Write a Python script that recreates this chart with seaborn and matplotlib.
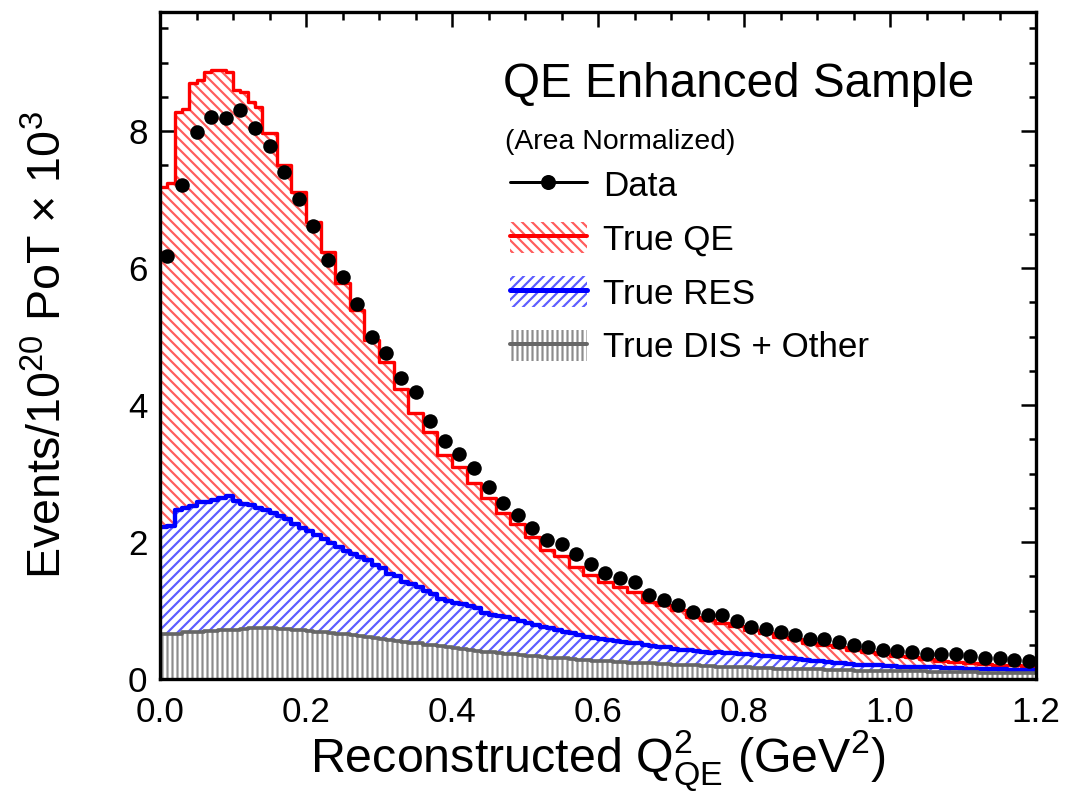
import numpy as np
import pandas as pd
import matplotlib
matplotlib.use("Agg")
import matplotlib.pyplot as plt
import seaborn as sns
from matplotlib.lines import Line2D
from matplotlib.patches import Patch
from matplotlib.ticker import MultipleLocator

# ---------------- data ----------------
q2_range = [0.0, 1.2]

# Data points, 0.02 GeV^2 bins (Events / 1e20 PoT x 1e3)
data_events = [6.17, 7.22, 7.99, 8.21, 8.19, 8.31, 8.05, 7.79, 7.40, 7.01,
               6.61, 6.12, 5.87, 5.48, 4.99, 4.76, 4.39, 4.19, 3.77, 3.47,
               3.29, 3.08, 2.80, 2.57, 2.40, 2.21, 2.03, 1.97, 1.82, 1.68,
               1.55, 1.47, 1.41, 1.23, 1.16, 1.08, 0.98, 0.93, 0.93, 0.84,
               0.76, 0.73, 0.69, 0.64, 0.58, 0.59, 0.54, 0.49, 0.47, 0.42,
               0.41, 0.40, 0.36, 0.36, 0.36, 0.33, 0.30, 0.30, 0.28, 0.26]

# Simulation, 0.01 GeV^2 bins (stacked totals as drawn)
true_qe = [7.19, 7.24, 8.28, 8.32, 8.70, 8.74, 8.87, 8.89, 8.89, 8.87,
           8.60, 8.57, 8.43, 8.35, 7.97, 7.97, 7.50, 7.50, 7.11, 7.11,
           6.68, 6.68, 6.24, 6.24, 5.78, 5.78, 5.39, 5.39, 4.95, 4.95,
           4.63, 4.63, 4.24, 4.24, 3.88, 3.88, 3.61, 3.61, 3.27, 3.27,
           3.10, 3.10, 2.86, 2.86, 2.64, 2.64, 2.42, 2.42, 2.27, 2.27,
           2.07, 2.07, 1.88, 1.88, 1.79, 1.79, 1.64, 1.64, 1.52, 1.52,
           1.42, 1.42, 1.35, 1.35, 1.27, 1.27, 1.13, 1.13, 1.08, 1.08,
           1.01, 1.01, 0.91, 0.91, 0.86, 0.86, 0.82, 0.82, 0.77, 0.77,
           0.72, 0.72, 0.67, 0.67, 0.62, 0.62, 0.58, 0.58, 0.53, 0.53,
           0.50, 0.50, 0.47, 0.47, 0.43, 0.43, 0.40, 0.40, 0.37, 0.37,
           0.34, 0.34, 0.32, 0.32, 0.29, 0.29, 0.27, 0.27, 0.25, 0.25,
           0.24, 0.24, 0.22, 0.22, 0.21, 0.21, 0.20, 0.20, 0.19, 0.19]

true_res = [2.22, 2.24, 2.47, 2.49, 2.53, 2.58, 2.59, 2.61, 2.64, 2.67,
            2.60, 2.56, 2.54, 2.49, 2.47, 2.42, 2.38, 2.34, 2.27, 2.20,
            2.16, 2.10, 2.04, 1.99, 1.93, 1.87, 1.82, 1.78, 1.74, 1.66,
            1.62, 1.54, 1.50, 1.42, 1.38, 1.35, 1.28, 1.24, 1.17, 1.14,
            1.11, 1.09, 1.06, 1.04, 0.97, 0.93, 0.92, 0.90, 0.87, 0.85,
            0.82, 0.79, 0.76, 0.74, 0.71, 0.69, 0.67, 0.64, 0.62, 0.60,
            0.59, 0.57, 0.56, 0.54, 0.53, 0.52, 0.50, 0.48, 0.47, 0.46,
            0.44, 0.43, 0.42, 0.41, 0.39, 0.38, 0.40, 0.38, 0.38, 0.36,
            0.36, 0.35, 0.34, 0.33, 0.32, 0.31, 0.30, 0.29, 0.28, 0.27,
            0.26, 0.25, 0.24, 0.23, 0.22, 0.21, 0.21, 0.20, 0.20, 0.19,
            0.19, 0.18, 0.18, 0.18, 0.17, 0.17, 0.17, 0.16, 0.16, 0.16,
            0.15, 0.15, 0.15, 0.14, 0.14, 0.14, 0.13, 0.13, 0.13, 0.13]

true_dis_other = [0.65, 0.66, 0.66, 0.68, 0.68, 0.69, 0.70, 0.70, 0.71, 0.72,
                  0.72, 0.73, 0.74, 0.75, 0.75, 0.74, 0.73, 0.73, 0.72, 0.71,
                  0.70, 0.69, 0.68, 0.67, 0.66, 0.65, 0.64, 0.63, 0.61, 0.60,
                  0.59, 0.57, 0.56, 0.54, 0.53, 0.52, 0.50, 0.49, 0.48, 0.46,
                  0.45, 0.44, 0.43, 0.41, 0.40, 0.39, 0.38, 0.37, 0.36, 0.35,
                  0.34, 0.33, 0.32, 0.31, 0.30, 0.30, 0.29, 0.28, 0.28, 0.27,
                  0.27, 0.26, 0.25, 0.25, 0.24, 0.24, 0.23, 0.23, 0.22, 0.22,
                  0.21, 0.21, 0.20, 0.20, 0.19, 0.19, 0.18, 0.18, 0.18, 0.17,
                  0.17, 0.16, 0.16, 0.16, 0.15, 0.15, 0.15, 0.14, 0.14, 0.14,
                  0.14, 0.13, 0.13, 0.13, 0.13, 0.12, 0.12, 0.12, 0.12, 0.12,
                  0.11, 0.11, 0.11, 0.11, 0.11, 0.10, 0.10, 0.10, 0.10, 0.10,
                  0.10, 0.10, 0.09, 0.09, 0.09, 0.09, 0.09, 0.09, 0.09, 0.09]

legend_labels = ["Data", "True QE", "True RES", "True DIS + Other"]
title_text = "QE Enhanced Sample"
subtitle_text = "(Area Normalized)"
x_ticks = [0.0, 0.2, 0.4, 0.6, 0.8, 1.0, 1.2]
y_ticks = [0, 2, 4, 6, 8]

# ---------------- styling ----------------
sns.set_theme(style="ticks")
plt.rcParams["font.family"] = ["Liberation Sans", "DejaVu Sans"]
plt.rcParams["mathtext.default"] = "regular"
plt.rcParams["hatch.linewidth"] = 1.3
for k in ["text.color", "axes.labelcolor", "xtick.color", "ytick.color",
          "axes.edgecolor"]:
    plt.rcParams[k] = "black"

DPI = 120
W, H = 1070, 794
fig = plt.figure(figsize=(W / DPI, H / DPI), dpi=DPI)
ax = fig.add_axes([160 / W, 115 / H, 876 / W, 667 / H])

n_mc = len(true_qe)
n_data = len(data_events)
mc_w = (q2_range[1] - q2_range[0]) / n_mc
d_w = (q2_range[1] - q2_range[0]) / n_data
mc_centers = q2_range[0] + mc_w * (np.arange(n_mc) + 0.5)
d_centers = q2_range[0] + d_w * (np.arange(n_data) + 0.5)

mc = pd.DataFrame({"q2": mc_centers, "qe": true_qe, "res": true_res,
                   "dis": true_dis_other})
dd = pd.DataFrame({"q2": d_centers, "events": data_events})

RED_H, RED_L = "#ff5c5c", "#ff0000"
BLU_H, BLU_L = "#5c5cff", "#0000ff"
GRY_H, GRY_L = "#8c8c8c", "#666666"
styles = [
    ("qe", "\\\\\\\\", RED_H, RED_L, 2.0),
    ("res", "////", BLU_H, BLU_L, 2.6),
    ("dis", "||||", GRY_H, GRY_L, 2.2),
]
for col, hatch, hcol, lcol, lw in styles:
    sns.histplot(data=mc, x="q2", weights=col, bins=n_mc, binrange=q2_range,
                 element="step", fill=True, facecolor="white", edgecolor=hcol,
                 hatch=hatch, linewidth=0, alpha=1, ax=ax)
    sns.histplot(data=mc, x="q2", weights=col, bins=n_mc, binrange=q2_range,
                 element="step", fill=False, color=lcol, linewidth=lw, ax=ax)

sns.scatterplot(data=dd, x="q2", y="events", color="black", s=76,
                edgecolor="black", linewidth=0, zorder=10, ax=ax)

ax.set_xlim(q2_range)
ax.set_ylim(0, 9.74)
ax.set_xticks(x_ticks)
ax.set_yticks(y_ticks)
ax.xaxis.set_minor_locator(MultipleLocator(0.05))
ax.yaxis.set_minor_locator(MultipleLocator(0.5))
ax.tick_params(which="both", direction="in", top=True, right=True,
               width=1.5, colors="black", labelsize=21)
ax.tick_params(which="major", length=9)
ax.tick_params(which="minor", length=4.5)
ax.tick_params(axis="x", pad=10)
ax.tick_params(axis="y", pad=7.5)
for s in ax.spines.values():
    s.set_linewidth(2.0)
    s.set_color("black")

ax.set_xlabel("Reconstructed $Q^{2}_{QE}$ (GeV$^{2}$)", fontsize=29)
ax.set_ylabel("Events/10$^{20}$ PoT × 10$^{3}$", fontsize=28)
ax.xaxis.set_label_coords(0.5, -0.074)
ax.yaxis.set_label_coords(-0.101, 0.5)

ax.text(0.3916, 0.8726, title_text, fontsize=28.6, transform=ax.transAxes,
        va="baseline", ha="left")
ax.text(0.3939, 0.7946, subtitle_text, fontsize=17, transform=ax.transAxes,
        va="baseline", ha="left")

handles = [
    Line2D([], [], color="black", marker="o", markersize=8, lw=1.8),
    (Patch(facecolor="white", edgecolor=RED_H, hatch="\\\\\\\\", lw=0),
     Line2D([], [], color=RED_L, lw=2.4)),
    (Patch(facecolor="white", edgecolor=BLU_H, hatch="////", lw=0),
     Line2D([], [], color=BLU_L, lw=3.0)),
    (Patch(facecolor="white", edgecolor=GRY_H, hatch="||||", lw=0),
     Line2D([], [], color=GRY_L, lw=2.4)),
]
leg = ax.legend(handles, legend_labels, loc="upper left",
                bbox_to_anchor=(0.3995, 0.766), frameon=False, fontsize=21,
                handlelength=2.2, handleheight=1.0, handletextpad=0.45,
                labelspacing=0.55, borderpad=0, borderaxespad=0)

fig.savefig("out.png", dpi=DPI)
